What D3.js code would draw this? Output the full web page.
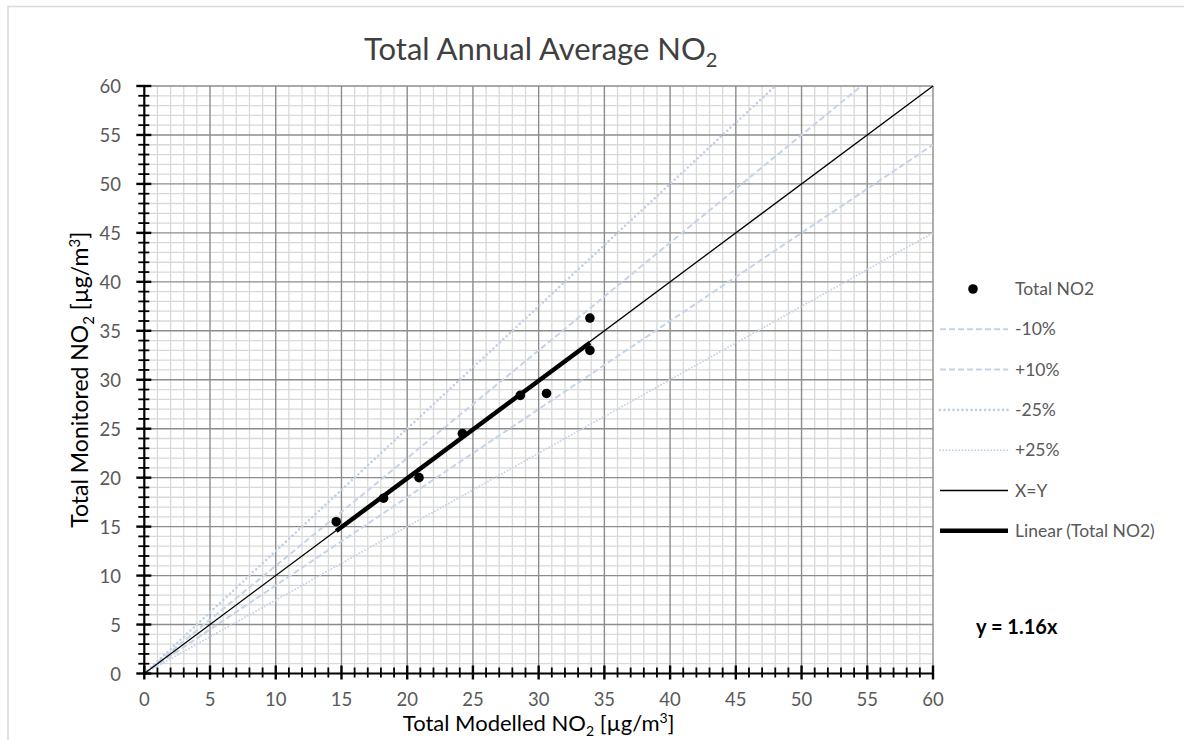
<!DOCTYPE html>
<html>
<head>
<meta charset="utf-8">
<script src="https://cdn.jsdelivr.net/npm/d3@7"></script>
<style>
  body { margin: 0; background: #fff; }
  svg { font-family: Lato, "Open Sans", sans-serif; }
</style>
</head>
<body>
<div id="chart"></div>
<script>
// data
const modelled = [14.6, 18.2, 20.9, 24.2, 28.6, 30.6, 33.9, 33.9];
const monitored = [15.5, 17.9, 20.0, 24.5, 28.4, 28.6, 36.3, 33.0];
const tickValues = [0, 5, 10, 15, 20, 25, 30, 35, 40, 45, 50, 55, 60];
const refNames = ["-10%", "+10%", "-25%", "+25%", "X=Y"];
const refSlopes = [1.1, 0.9, 1.25, 0.75, 1];
const equationLabel = "y = 1.16x";

let w = 1184;
let h = 740;
let pLeft = 144.3, pRight = 933, pTop = 86, pBottom = 673.5;

let svg = d3.select("#chart")
    .append("svg")
    .attr("width", w)
    .attr("height", h);

// chart border
svg.append("rect")
    .attr("x", 8).attr("y", 6.5)
    .attr("width", w).attr("height", h)
    .attr("fill", "none")
    .attr("stroke", "#d9d9d9")
    .attr("stroke-width", 1.5);

let x = d3.scaleLinear().domain([0, 60]).range([pLeft, pRight]);
let y = d3.scaleLinear().domain([0, 60]).range([pBottom, pTop]);

let minor = d3.range(0, 61, 1).filter(function (d) { return d % 5 !== 0; });

// minor grid
let grid = svg.append("g");
grid.selectAll(".vmin").data(minor).enter().append("line")
    .attr("x1", function (d) { return x(d); }).attr("x2", function (d) { return x(d); })
    .attr("y1", pTop).attr("y2", pBottom)
    .attr("stroke", "#d9d9d9").attr("stroke-width", 1.3);
grid.selectAll(".hmin").data(minor).enter().append("line")
    .attr("y1", function (d) { return y(d); }).attr("y2", function (d) { return y(d); })
    .attr("x1", pLeft).attr("x2", pRight)
    .attr("stroke", "#d9d9d9").attr("stroke-width", 1.3);
// major grid
grid.selectAll(".vmaj").data(tickValues.slice(1)).enter().append("line")
    .attr("x1", function (d) { return x(d); }).attr("x2", function (d) { return x(d); })
    .attr("y1", pTop).attr("y2", pBottom)
    .attr("stroke", "#8c8c8c").attr("stroke-width", 1.4);
grid.selectAll(".hmaj").data(tickValues.slice(1)).enter().append("line")
    .attr("y1", function (d) { return y(d); }).attr("y2", function (d) { return y(d); })
    .attr("x1", pLeft).attr("x2", pRight)
    .attr("stroke", "#8c8c8c").attr("stroke-width", 1.4);

// reference lines
let refStyles = [
    { dash: "6,3", width: 2, cap: "butt" },
    { dash: "6,3", width: 2, cap: "butt" },
    { dash: "0,4.5", width: 2.6, cap: "round" },
    { dash: "0,3.2", width: 2, cap: "round" },
    { dash: null, width: 1.3, cap: "butt" }
];
let refColor = ["#c5d4e8", "#c5d4e8", "#bfd0e6", "#c5d4e8", "#000"];

refSlopes.forEach(function (s, i) {
    let xEnd = Math.min(60, 60 / s);
    svg.append("line")
        .attr("x1", x(0)).attr("y1", y(0))
        .attr("x2", x(xEnd)).attr("y2", y(xEnd * s))
        .attr("stroke", refColor[i])
        .attr("stroke-width", refStyles[i].width)
        .attr("stroke-dasharray", refStyles[i].dash)
        .attr("stroke-linecap", refStyles[i].cap);
});

// linear trend through origin
let sxy = d3.sum(modelled, function (d, i) { return d * monitored[i]; });
let sxx = d3.sum(modelled, function (d) { return d * d; });
let slope = sxy / sxx;
let xmin = d3.min(modelled), xmax = d3.max(modelled);
svg.append("line")
    .attr("x1", x(xmin)).attr("y1", y(xmin * slope))
    .attr("x2", x(xmax)).attr("y2", y(xmax * slope))
    .attr("stroke", "#000").attr("stroke-width", 4.5);

// points
svg.selectAll("circle.pt")
    .data(modelled)
    .enter()
    .append("circle")
    .attr("cx", function (d) { return x(d); })
    .attr("cy", function (d, i) { return y(monitored[i]); })
    .attr("r", 4.8)
    .attr("fill", "#000");

// axes
let ax = svg.append("g");
ax.append("line").attr("x1", pLeft).attr("x2", pRight).attr("y1", pBottom).attr("y2", pBottom)
    .attr("stroke", "#000").attr("stroke-width", 2.2);
ax.append("line").attr("x1", pLeft).attr("x2", pLeft).attr("y1", pTop).attr("y2", pBottom)
    .attr("stroke", "#000").attr("stroke-width", 2.2);

let allTicks = d3.range(0, 61, 1);
ax.selectAll(".xt").data(allTicks).enter().append("line")
    .attr("x1", function (d) { return x(d); }).attr("x2", function (d) { return x(d); })
    .attr("y1", function (d) { return d % 5 === 0 ? pBottom - 8 : pBottom - 6; })
    .attr("y2", function (d) { return d % 5 === 0 ? pBottom + 6 : pBottom + 4; })
    .attr("stroke", "#000").attr("stroke-width", function (d) { return d % 5 === 0 ? 2.4 : 1.8; });
ax.selectAll(".yt").data(allTicks).enter().append("line")
    .attr("y1", function (d) { return y(d); }).attr("y2", function (d) { return y(d); })
    .attr("x1", function (d) { return d % 5 === 0 ? pLeft - 8 : pLeft - 6; })
    .attr("x2", function (d) { return d % 5 === 0 ? pLeft + 7 : pLeft + 5; })
    .attr("stroke", "#000").attr("stroke-width", function (d) { return d % 5 === 0 ? 2.4 : 1.8; });

// tick labels
svg.selectAll("text.xl")
    .data(tickValues)
    .enter()
    .append("text")
    .text(function (d) { return d; })
    .attr("x", function (d) { return x(d); })
    .attr("y", 706)
    .attr("text-anchor", "middle")
    .attr("font-size", "18.5px")
    .attr("fill", "#595959");
svg.selectAll("text.yl")
    .data(tickValues)
    .enter()
    .append("text")
    .text(function (d) { return d; })
    .attr("x", 121)
    .attr("y", function (d) { return y(d) + 7; })
    .attr("text-anchor", "end")
    .attr("font-size", "18.5px")
    .attr("fill", "#595959");

// title
let title = svg.append("text")
    .attr("x", (pLeft + pRight) / 2 + 2).attr("y", 60)
    .attr("text-anchor", "middle")
    .attr("font-size", "31px")
    .attr("fill", "#404040");
title.append("tspan").text("Total Annual Average NO");
title.append("tspan").text("2").attr("font-size", "20px").attr("dy", 7);

// x axis title
let xt = svg.append("text")
    .attr("x", (pLeft + pRight) / 2).attr("y", 731)
    .attr("text-anchor", "middle")
    .attr("font-size", "22px")
    .attr("fill", "#000");
xt.append("tspan").text("Total Modelled NO");
xt.append("tspan").text("2").attr("font-size", "14px").attr("dy", 5);
xt.append("tspan").text(" [µg/m").attr("dy", -5);
xt.append("tspan").text("3").attr("font-size", "14px").attr("dy", -8);
xt.append("tspan").text("]").attr("dy", 8);

// y axis title
let yt = svg.append("text")
    .attr("transform", "translate(88," + (pTop + pBottom) / 2 + ") rotate(-90)")
    .attr("text-anchor", "middle")
    .attr("font-size", "23px")
    .attr("fill", "#000");
yt.append("tspan").text("Total Monitored NO");
yt.append("tspan").text("2").attr("font-size", "15px").attr("dy", 6);
yt.append("tspan").text(" [µg/m").attr("dy", -6);
yt.append("tspan").text("3").attr("font-size", "15px").attr("dy", -8);
yt.append("tspan").text("]").attr("dy", 8);

// legend
let legNames = ["Total NO2"].concat(refNames).concat(["Linear (Total NO2)"]);
let leg = svg.append("g");
legNames.forEach(function (name, i) {
    let ly = 289 + i * 40.3;
    if (i === 0) {
        leg.append("circle").attr("cx", 973).attr("cy", ly).attr("r", 4.8).attr("fill", "#000");
    } else if (i <= refNames.length) {
        let st = refStyles[i - 1];
        leg.append("line")
            .attr("x1", 940).attr("x2", 1008).attr("y1", ly).attr("y2", ly)
            .attr("stroke", refColor[i - 1])
            .attr("stroke-width", st.width)
            .attr("stroke-dasharray", st.dash)
            .attr("stroke-linecap", st.cap);
    } else {
        leg.append("line")
            .attr("x1", 940).attr("x2", 1008).attr("y1", ly).attr("y2", ly)
            .attr("stroke", "#000").attr("stroke-width", 4.5);
    }
    leg.append("text")
        .text(name)
        .attr("x", 1015)
        .attr("y", ly + 6)
        .attr("font-size", "17.5px")
        .attr("fill", "#595959");
});

svg.append("text")
    .text(equationLabel)
    .attr("x", 976)
    .attr("y", 634)
    .attr("font-size", "20px")
    .attr("font-weight", "bold")
    .attr("fill", "#000");
</script>
</body>
</html>
